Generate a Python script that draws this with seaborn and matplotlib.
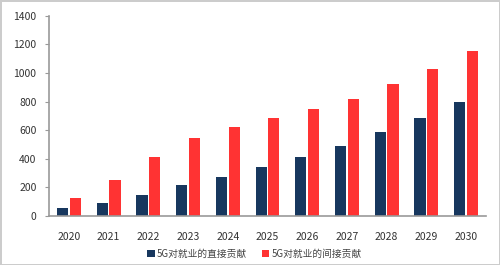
import matplotlib
matplotlib.use("Agg")
import matplotlib.pyplot as plt
import seaborn as sns
import pandas as pd

years = ["2020", "2021", "2022", "2023", "2024", "2025", "2026", "2027", "2028", "2029", "2030"]
direct = [55, 90, 150, 220, 275, 345, 410, 490, 585, 685, 800]
indirect = [128, 255, 410, 545, 625, 685, 750, 820, 920, 1025, 1155]
series_names = ["5G对就业的直接贡献", "5G对就业的间接贡献"]
colors = ["#17375E", "#FF3333"]

df = pd.DataFrame({
    "year": years * 2,
    "value": direct + indirect,
    "series": [series_names[0]] * len(years) + [series_names[1]] * len(years),
})

sns.set_style("white")
plt.rcParams['font.family'] = ['Noto Sans CJK SC', 'DejaVu Sans']

fig = plt.figure(figsize=(5.0, 2.65), dpi=100, edgecolor="#cccccc", linewidth=2)
ax = fig.add_axes([0.098, 0.185, 0.874, 0.755])

sns.barplot(data=df, x="year", y="value", hue="series", palette=colors,
            width=0.64, gap=0.12, ax=ax, saturation=1, edgecolor="none")

ax.set_xlim(-0.5, 10.5)
ax.set_ylim(0, 1400)
ax.set_yticks(range(0, 1401, 200))
ax.set_xlabel("")
ax.set_ylabel("")
for s in ["top", "right"]:
    ax.spines[s].set_visible(False)
ax.spines["left"].set_color("#999999")
ax.spines["bottom"].set_color("#999999")
ax.spines["left"].set_linewidth(1.2)
ax.spines["bottom"].set_linewidth(1.2)
ax.tick_params(axis="y", which="both", left=True, length=3, color="#999999",
               labelsize=7.5, labelcolor="#333333", pad=6)
ax.tick_params(axis="x", bottom=False, labelsize=7.5, labelcolor="#333333", pad=8)

ax.legend(loc="center", bbox_to_anchor=(0.47, -0.19), ncol=2, frameon=False,
          fontsize=7, handlelength=0.8, handleheight=0.8, handletextpad=0.2,
          columnspacing=1.5, labelcolor="#444444")

fig.savefig("out.png", dpi=100)
